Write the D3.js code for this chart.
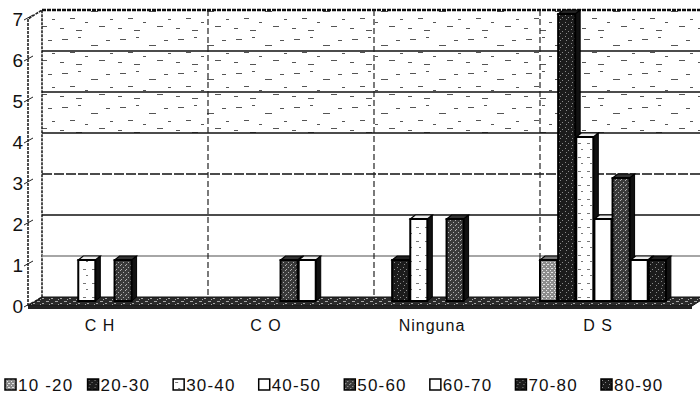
<!DOCTYPE html>
<meta charset="utf-8">
<title>Edades por grupo</title>
<style>
  body { margin: 0; background: #fff; }
  text { font-family: "Liberation Sans", Arial, sans-serif; fill: #111; }
</style>
<svg width="700" height="398"></svg>
<script src="https://d3js.org/d3.v7.min.js"></script>
<script>

// ---- data ----
var categories = ["C H", "C O", "Ninguna", "D S"];
var series = ["10 -20", "20-30", "30-40", "40-50", "50-60", "60-70", "70-80", "80-90"];
var s10_20 = [0, 0, 0, 1];
var s20_30 = [0, 0, 1, 7];
var s30_40 = [1, 0, 2, 4];
var s40_50 = [0, 0, 0, 2];
var s50_60 = [1, 1, 2, 3];
var s60_70 = [0, 1, 0, 1];
var s70_80 = [0, 0, 0, 1];
var s80_90 = [0, 0, 0, 0];
var yTicks = [0, 1, 2, 3, 4, 5, 6, 7];

var allValues = [s10_20, s20_30, s30_40, s40_50, s50_60, s60_70, s70_80, s80_90];

var svg = d3.select("svg");

// oblique 3d offsets
var dx = 14, dy = -9;   // floor / wall depth
var bx = 8, by = -5;    // bar front plane
var sx = 5, sy = -4;    // bar depth

var x = d3.scaleBand().domain(categories).range([28, 692]);
var xs = d3.scaleBand().domain(series).range([6, 150]).paddingInner(0.06);
var y = d3.scaleLinear().domain([0, 7]).range([306, 19]);

// ---- patterns (scanned look) ----
var defs = svg.append("defs");

function speckPattern(id, bg, fg, w, h, marks) {
  var p = defs.append("pattern").attr("id", id)
    .attr("patternUnits", "userSpaceOnUse").attr("width", w).attr("height", h);
  p.append("rect").attr("width", w).attr("height", h).attr("fill", bg);
  marks.forEach(function(m) {
    p.append("rect").attr("x", m[0]).attr("y", m[1]).attr("width", m[2]).attr("height", m[3]).attr("fill", fg);
  });
}

speckPattern("wallSpeck", "#fff", "#555", 58, 34,
  [[4, 5, 6, 1], [20, 3, 3, 1], [33, 11, 7, 1], [48, 6, 4, 1], [12, 18, 5, 1], [27, 22, 3, 1],
   [41, 26, 6, 1], [2, 28, 4, 1], [52, 19, 3, 1], [18, 30, 6, 1]]);
speckPattern("darkSpeck", "#1c1c1c", "#8a8a8a", 6, 7,
  [[1, 1, 1, 1], [4, 3, 1, 1], [2, 5, 1, 1]]);
speckPattern("midSpeck", "#3a3a3a", "#b0b0b0", 5, 5,
  [[0, 0, 1, 1], [3, 2, 1, 1], [1, 4, 1, 1]]);
speckPattern("lightSpeck", "#8c8c8c", "#e6e6e6", 4, 4,
  [[0, 0, 1, 1], [2, 2, 1, 1], [3, 0, 1, 1]]);
speckPattern("whiteSpeck", "#fff", "#777", 9, 14,
  [[2, 3, 3, 1], [5, 9, 2, 1]]);
speckPattern("floorSpeck", "#2a2a2a", "#a8a8a8", 9, 5,
  [[1, 1, 3, 1], [6, 3, 2, 1], [4, 4, 1, 1]]);

var seriesFill = ["url(#lightSpeck)", "url(#darkSpeck)", "url(#whiteSpeck)", "#fff",
                  "url(#midSpeck)", "#fff", "url(#darkSpeck)", "url(#darkSpeck)"];
var seriesTop = ["#777", "#222", "#eee", "#eee", "#333", "#eee", "#222", "#222"];

// ---- walls ----
var wallX0 = x(categories[0]) + dx;
var wallX1 = 700;

svg.append("rect")
  .attr("x", wallX0).attr("y", y(7) + dy)
  .attr("width", wallX1 - wallX0).attr("height", y(4) - y(7))
  .attr("fill", "url(#wallSpeck)");

// left wall
svg.append("polygon")
  .attr("points", [[28, y(0)], [28, y(7)], [wallX0, y(7) + dy], [wallX0, y(0) + dy]].join(" "))
  .attr("fill", "none").attr("stroke", "#222").attr("stroke-width", 1.6)
  .attr("stroke-dasharray", "3,1");

// horizontal gridlines on back wall
svg.append("g").selectAll("line")
  .data(yTicks.filter(function(v) { return v > 0; }))
  .enter().append("line")
  .attr("x1", wallX0).attr("x2", wallX1)
  .attr("y1", function(d) { return y(d) + dy; })
  .attr("y2", function(d) { return y(d) + dy; })
  .attr("stroke", function(d) { return d === 1 ? "#888" : "#111"; })
  .attr("stroke-width", function(d) { return d === 7 ? 2.4 : 1.3; })
  .attr("stroke-dasharray", function(d) { return d === 3 ? "10,2" : (d === 7 ? "4,1" : null); });

// vertical category dividers on back wall
svg.append("g").selectAll("line")
  .data(categories.slice(1))
  .enter().append("line")
  .attr("x1", function(d) { return x(d) + dx; })
  .attr("x2", function(d) { return x(d) + dx; })
  .attr("y1", y(7) + dy).attr("y2", y(0) + dy)
  .attr("stroke", "#222").attr("stroke-width", 1.2)
  .attr("stroke-dasharray", "6,3");

// floor
var floorFront = y(0), floorBack = y(0) + dy;
svg.append("polygon")
  .attr("points", [[28, floorFront], [692, floorFront], [692 + dx, floorBack], [wallX0, floorBack]].join(" "))
  .attr("fill", "url(#floorSpeck)").attr("stroke", "#111").attr("stroke-width", 1);
svg.append("rect")
  .attr("x", 28).attr("y", floorFront).attr("width", 664).attr("height", 3)
  .attr("fill", "#222");

// ---- bars ----
var bars = [];
categories.forEach(function(c, j) {
  series.forEach(function(s, i) {
    bars.push({ cat: c, name: s, idx: i, value: allValues[i][j] });
  });
});

var barG = svg.append("g").selectAll("g")
  .data(bars.filter(function(d) { return d.value > 0; }))
  .enter().append("g");

function barX(d) { return x(d.cat) + bx + xs(d.name); }
function barTop(d) { return y(d.value) + by; }
var barBot = y(0) + by;
var bw = xs.bandwidth();

barG.append("polygon")   // side
  .attr("points", function(d) {
    var a = barX(d) + bw, t = barTop(d);
    return [[a, t], [a + sx, t + sy], [a + sx, barBot + sy], [a, barBot]].join(" ");
  })
  .attr("fill", "#111").attr("stroke", "#000").attr("stroke-width", 1);

barG.append("polygon")   // top
  .attr("points", function(d) {
    var a = barX(d), t = barTop(d);
    return [[a, t], [a + sx, t + sy], [a + bw + sx, t + sy], [a + bw, t]].join(" ");
  })
  .attr("fill", function(d) { return seriesTop[d.idx]; })
  .attr("stroke", "#000").attr("stroke-width", 1.2);

barG.append("rect")      // front
  .attr("x", barX).attr("y", barTop)
  .attr("width", bw).attr("height", function(d) { return barBot - barTop(d); })
  .attr("fill", function(d) { return seriesFill[d.idx]; })
  .attr("stroke", "#000").attr("stroke-width", 2);

// ---- value axis ----
var axisG = svg.append("g");
axisG.selectAll("line")
  .data(yTicks).enter().append("line")
  .attr("x1", 24).attr("x2", 33)
  .attr("y1", function(d) { return y(d) + 1; })
  .attr("y2", function(d) { return y(d) - 4; })
  .attr("stroke", "#222").attr("stroke-width", 1);
axisG.selectAll("text")
  .data(yTicks).enter().append("text")
  .attr("x", 23).attr("y", function(d) { return y(d) + 7; })
  .attr("text-anchor", "end")
  .style("font-size", "19px")
  .text(function(d) { return d; });

// ---- category labels ----
svg.append("g").selectAll("text")
  .data(categories).enter().append("text")
  .attr("x", function(d) { return x(d) + 72; })
  .attr("y", 331)
  .attr("text-anchor", "middle")
  .style("font-size", "16px")
  .style("letter-spacing", "1px")
  .text(function(d) { return d; });

// ---- legend ----
var lx = d3.scalePoint().domain(series).range([5, 604]);
var leg = svg.append("g").selectAll("g")
  .data(series).enter().append("g")
  .attr("transform", function(d, i) {
    var off = i === 0 ? 0 : -3;
    return "translate(" + (lx(d) + off) + ",379)";
  });
leg.append("rect")
  .attr("x", 0).attr("y", 0).attr("width", 11).attr("height", 11)
  .attr("fill", function(d, i) { return seriesFill[i]; })
  .attr("stroke", "#000").attr("stroke-width", 1.5);
leg.append("text")
  .attr("x", 13).attr("y", 12)
  .style("font-size", "17px")
  .style("letter-spacing", "1.2px")
  .text(function(d) { return d; });

</script>
